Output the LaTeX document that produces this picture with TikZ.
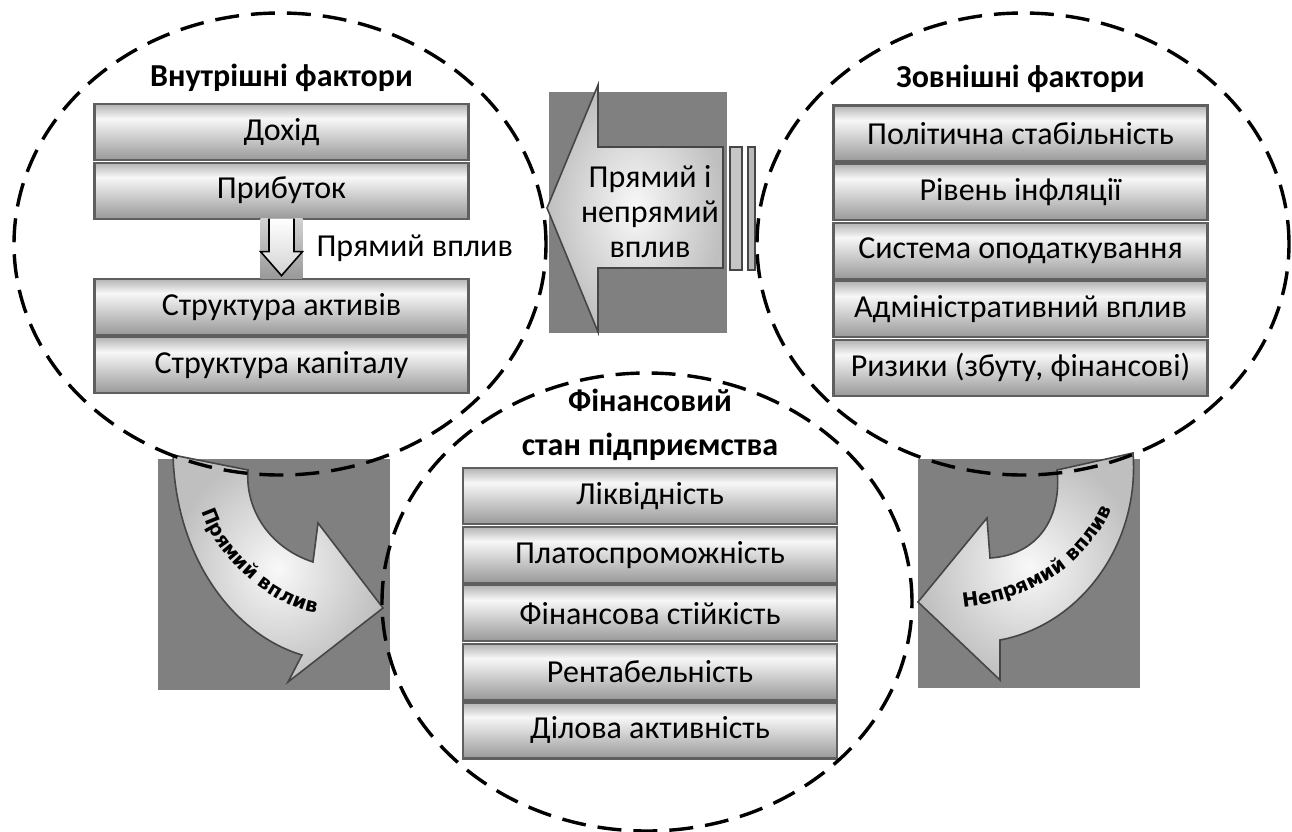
\documentclass[tikz,border=0pt]{standalone}
\usepackage{fontspec}
\setmainfont{Carlito}
\newfontfamily\arcfont{DejaVu Sans}
\usetikzlibrary{calc,positioning,shapes.geometric,decorations.text}
\definecolor{blockgray}{RGB}{128,128,128}
\definecolor{edgegray}{RGB}{70,70,70}
\definecolor{rowedge}{RGB}{95,95,95}
\pgfdeclareverticalshading{rowshade}{100bp}{color(0bp)=(gray!80); color(25bp)=(gray!80); color(62bp)=(gray!6); color(75bp)=(gray!60); color(100bp)=(gray!60)}

\begin{document}
\begin{tikzpicture}[x=0.5pt, y=-0.5pt,
  font=\fontsize{16}{17.5}\selectfont,
  row/.style={draw=rowedge, line width=1.1pt, shade, shading=rowshade,
    minimum width=187pt, minimum height=28pt, inner sep=0pt, outer sep=0pt},
  heading/.style={font=\fontsize{16}{22}\selectfont\bfseries, align=center, inner sep=2pt},
  zone/.style={ellipse, draw=black, line width=1.7pt, dash pattern=on 12pt off 6pt},
  blockarrow/.style={draw=edgegray, line width=0.8pt, inner color=gray!5, outer color=gray!50},
  backing/.style={fill=blockgray},
  arclabel/.style={decorate, decoration={text along path, text align=center,
    text={|\arcfont\bfseries\fontsize{9.8}{11}\selectfont|#1}}}
]
\path[use as bounding box, fill=white] (0,0) rectangle (1292,831);

% curved arrows at the bottom
\fill[backing] (158,459) rectangle (390,690);
\filldraw[blockarrow] (173,455) .. controls (176,560) and (235,635) .. (302,655)
  -- (288,682) -- (383,608) -- (318,523) -- (313,562)
  .. controls (270,548) and (245,510) .. (248,470) -- cycle;
\path[arclabel=Прямий вплив] (199,500) .. controls (205,550) and (275,614) .. (328,614);

\fill[backing] (918,459) rectangle (1140,688);
\filldraw[blockarrow] (1133,453) .. controls (1140,545) and (1080,625) .. (1000,640)
  -- (1000,680) -- (918,602) -- (987,518) -- (990,558)
  .. controls (1040,555) and (1062,515) .. (1057,470) -- cycle;
\path[arclabel=Непрямий вплив] (948,608) .. controls (1020,606) and (1092,570) .. (1117,495);

% central arrow
\fill[backing] (549,92) rectangle (727,333);
\filldraw[blockarrow] (547,208) -- (598,85) -- (598,147) -- (723,147) -- (723,268)
  -- (598,268) -- (598,332) -- cycle;
\node[align=center] (both) at (650,212) {Прямий і\\непрямий\\вплив};
\filldraw[draw=edgegray, fill=gray!45, line width=0.8pt] (730,147) rectangle (742,270);
\filldraw[draw=edgegray, fill=gray!55, line width=0.8pt] (748,147) rectangle (755,270);

% internal factors
\node[row] (dokhid) at (281.5,132) {Дохід};
\node[row, below=1.3pt of dokhid] (prybutok) {Прибуток};
\node[row, below=30pt of prybutok] (aktyvy) {Структура активів};
\node[row, below=1.3pt of aktyvy] (kapital) {Структура капіталу};
\node[heading, above=4pt of dokhid] (vnutr) {Внутрішні фактори};

% external factors
\node[row] (polit) at (1020.5,133.5) {Політична стабільність};
\node[row, below=1.3pt of polit] (infl) {Рівень інфляції};
\node[row, below=1.3pt of infl] (podatky) {Система оподаткування};
\node[row, below=1.3pt of podatky] (admin) {Адміністративний вплив};
\node[row, below=1.3pt of admin] (ryzyky) {Ризики (збуту, фінансові)};
\node[heading, above=4pt of polit] (zovn) {Зовнішні фактори};

% financial state
\node[row] (likv) at (650,496) {Ліквідність};
\node[row, below=1.3pt of likv] (platos) {Платоспроможність};
\node[row, below=1.3pt of platos] (stiyk) {Фінансова стійкість};
\node[row, below=1.3pt of stiyk] (rent) {Рентабельність};
\node[row, below=1.3pt of rent] (dilova) {Ділова активність};
\node[heading, above=1.5pt of likv] (stan) {Фінансовий\\стан підприємства};

% direct influence inside
\coordinate (dtop) at (prybutok.south);
\coordinate (dbot) at (aktyvy.north);
\fill[top color=gray!35, bottom color=gray!80] ($(dtop)+(-21,0)$) rectangle ($(dbot)+(21,0)$);
\filldraw[draw=black, line width=0.8pt, top color=white, bottom color=gray!35]
  ($(dtop)+(-12.5,0)$) -- ($(dtop)+(-12.5,33)$) -- ($(dtop)+(-21,33)$) -- ($(dbot)+(0,-3)$)
  -- ($(dtop)+(21,33)$) -- ($(dtop)+(12.5,33)$) -- ($(dtop)+(12.5,0)$);
\node[anchor=west] (pryamyi) at ($(dtop)!0.5!(dbot)+(28,0)$) {Прямий вплив};

% zones
\node[zone, minimum width=266pt, minimum height=231pt] (vnutrzone) at (280,244) {};
\node[zone, minimum width=266pt, minimum height=231pt] (zovnzone) at (1023,244) {};
\node[zone, minimum width=265pt, minimum height=229pt] (stanzone) at (647,602) {};
\end{tikzpicture}
\end{document}
